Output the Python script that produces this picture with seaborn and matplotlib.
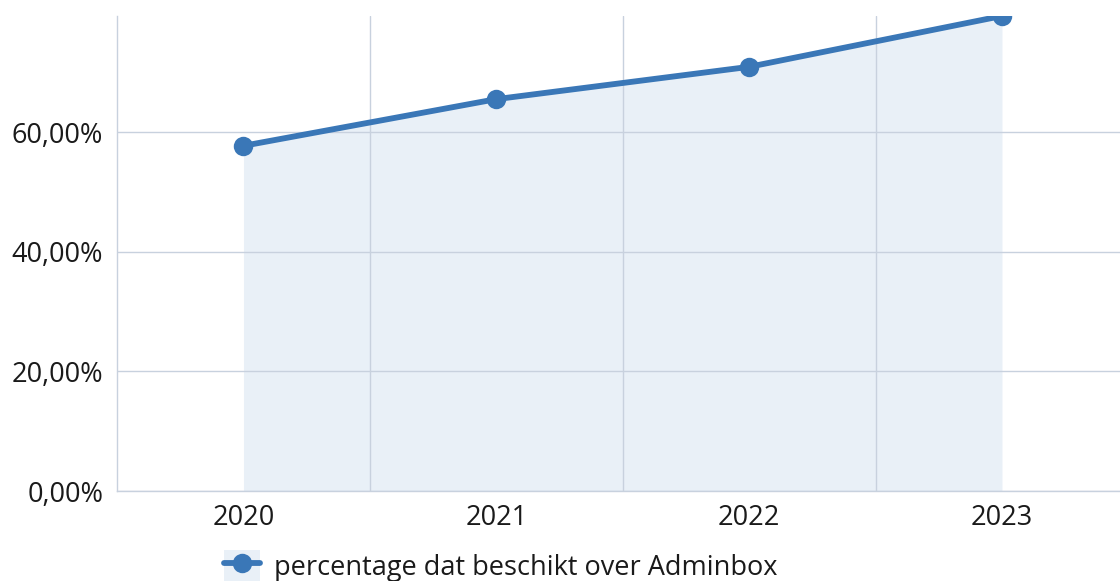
import numpy as np
import pandas as pd
import matplotlib
matplotlib.use("Agg")
import matplotlib.pyplot as plt
from matplotlib.patches import Patch
from matplotlib.lines import Line2D
from matplotlib.legend_handler import HandlerTuple
from matplotlib.ticker import FuncFormatter, FixedLocator
import seaborn as sns

years = ["2020", "2021", "2022", "2023"]
percentages = [57.7, 65.5, 70.9, 79.4]
series_name = "percentage dat beschikt over Adminbox"

line_color = "#3a77b7"
fill_color = "#e9f0f7"
grid_color = "#c8d1de"

sns.set_style("white")
plt.rcParams["font.family"] = ["Open Sans", "DejaVu Sans"]

df = pd.DataFrame({"jaar": years, "pct": percentages})

fig = plt.figure(figsize=(11.2, 5.81), dpi=100)
ax = fig.add_axes([0.1045, 0.1549, 0.903, 0.8176])

x = np.arange(len(years))
ax.fill_between(x, df["pct"], 0, color=fill_color, linewidth=0, zorder=0.2)
sns.lineplot(data=df, x="jaar", y="pct", ax=ax, color=line_color, linewidth=4.2,
             marker="o", markersize=14, markeredgewidth=0, zorder=3, sort=False)

ax.set_xlim(-0.5, len(years) - 0.5)
ax.set_ylim(0, max(percentages))
ax.set_xlabel("")
ax.set_ylabel("")

ax.set_yticks([0, 20, 40, 60])
ax.yaxis.set_major_formatter(FuncFormatter(lambda v, p: f"{v:.2f}".replace(".", ",") + "%"))
ax.xaxis.set_minor_locator(FixedLocator([0.5, 1.5, 2.5]))
ax.grid(axis="y", which="major", color=grid_color, linewidth=1)
ax.grid(axis="x", which="minor", color=grid_color, linewidth=1)
ax.grid(axis="x", which="major", visible=False)
ax.set_axisbelow(True)

for side in ["top", "right"]:
    ax.spines[side].set_visible(False)
ax.spines["left"].set_color(grid_color)
ax.spines["bottom"].set_color(grid_color)
ax.spines["left"].set_linewidth(1)
ax.spines["bottom"].set_linewidth(1)
ax.tick_params(axis="both", which="both", length=0, labelsize=19.5, colors="#1a1a1a")
ax.tick_params(axis="x", pad=9)
ax.tick_params(axis="y", pad=10)

bg = Patch(facecolor=fill_color, edgecolor="none")
ln = Line2D([], [], color=line_color, linewidth=4.2, marker="o", markersize=14, markeredgewidth=0)
fig.legend(handles=[(bg, ln)], labels=[series_name], loc="center",
           bbox_to_anchor=(0.447, 0.025), frameon=False, fontsize=19.5,
           handler_map={tuple: HandlerTuple(ndivide=1, pad=0)},
           handlelength=1.35, handleheight=1.5, handletextpad=0.5, labelcolor="#1a1a1a")

fig.savefig("out.png", dpi=100)
